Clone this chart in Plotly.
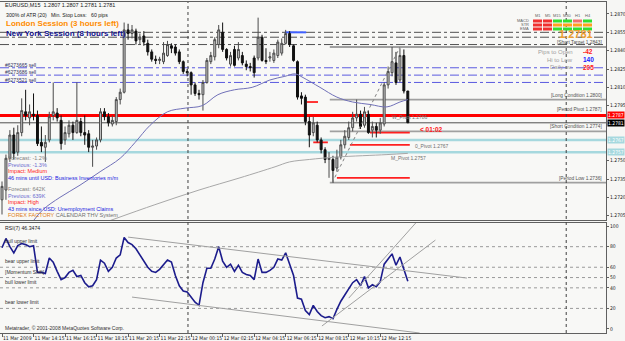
import plotly.graph_objects as go

# ---------------- DATA ----------------
bar_idx = list(range(104))
opens = [1.2718,1.2726,1.2752,1.2771,1.2757,1.2773,1.2790,1.2785,1.2788,1.2787,
         1.2765,1.2761,1.2767,1.2787,1.2789,1.2783,1.2767,1.2772,1.2779,1.2773,
         1.2782,1.2773,1.2772,1.2761,1.2762,1.2767,1.2790,1.2786,1.2780,1.2782,
         1.2800,1.2806,1.2857,1.2854,1.2856,1.2849,1.2852,1.2846,1.2839,1.2833,
         1.2832,1.2831,1.2836,1.2844,1.2843,1.2839,1.2831,1.2823,1.2822,1.2812,
         1.2805,1.2804,1.2814,1.2831,1.2835,1.2845,1.2855,1.2841,1.2829,1.2841,
         1.2834,1.2836,1.2829,1.2827,1.2834,1.2834,1.2851,1.2832,1.2834,1.2832,
         1.2836,1.2838,1.2846,1.2854,1.2844,1.2831,1.2803,1.2802,1.2782,1.2773,
         1.2779,1.2767,1.2759,1.2751,1.2751,1.2744,1.2753,1.2763,1.2769,1.2777,
         1.2785,1.2788,1.2779,1.2788,1.2775,1.2778,1.2775,1.2780,1.2812,1.2822,
         1.2830,1.2816,1.2836,1.2807]
highs = [1.2733,1.2755,1.2775,1.2777,1.2779,1.2801,1.2808,1.2796,1.2805,1.2791,
         1.2778,1.2771,1.2790,1.2814,1.2793,1.2787,1.2778,1.2783,1.2782,1.2814,
         1.2785,1.2787,1.2775,1.2767,1.2769,1.2793,1.2793,1.2789,1.2787,1.2802,
         1.2809,1.2863,1.2862,1.2861,1.2858,1.2854,1.2856,1.2849,1.2841,1.2836,
         1.2835,1.2847,1.2848,1.2846,1.2845,1.2841,1.2832,1.2825,1.2823,1.2814,
         1.2808,1.2816,1.2834,1.2839,1.2851,1.2861,1.2863,1.2842,1.2839,1.2844,
         1.2847,1.2839,1.2832,1.2830,1.2836,1.2867,1.2853,1.2842,1.2839,1.2841,
         1.2849,1.2850,1.2857,1.2856,1.2845,1.2832,1.2806,1.2804,1.2786,1.2786,
         1.2782,1.2769,1.2761,1.2757,1.2754,1.2759,1.2767,1.2775,1.2782,1.2790,
         1.2800,1.2791,1.2794,1.2791,1.2782,1.2781,1.2785,1.2814,1.2827,1.2843,
         1.2839,1.2842,1.2841,1.2807]
lows = [1.2706,1.2718,1.2749,1.2751,1.2754,1.2770,1.2783,1.2779,1.2783,1.2762,
        1.2757,1.2749,1.2765,1.2783,1.2782,1.2759,1.2763,1.2769,1.2767,1.2772,
        1.2770,1.2763,1.2757,1.2745,1.2759,1.2765,1.2783,1.2778,1.2778,1.2779,
        1.2796,1.2805,1.2849,1.2850,1.2845,1.2845,1.2844,1.2836,1.2831,1.2829,
        1.2829,1.2829,1.2835,1.2838,1.2836,1.2829,1.2821,1.2819,1.2804,1.2803,
        1.2800,1.2791,1.2813,1.2829,1.2832,1.2842,1.2839,1.2832,1.2827,1.2827,
        1.2832,1.2828,1.2824,1.2823,1.2818,1.2832,1.2831,1.2829,1.2831,1.2830,
        1.2834,1.2836,1.2845,1.2843,1.2831,1.2800,1.2796,1.2779,1.2761,1.2770,
        1.2765,1.2756,1.2748,1.2736,1.2732,1.2741,1.2751,1.2760,1.2767,1.2774,
        1.2782,1.2776,1.2777,1.2772,1.2769,1.2769,1.2772,1.2778,1.2809,1.2819,
        1.2812,1.2814,1.2805,1.2781]
closes = [1.2729,1.2752,1.2771,1.2756,1.2773,1.2791,1.2787,1.2790,1.2787,1.2764,
          1.2762,1.2765,1.2786,1.2790,1.2785,1.2764,1.2773,1.2779,1.2773,1.2783,
          1.2773,1.2771,1.2761,1.2762,1.2767,1.2790,1.2786,1.2781,1.2783,1.2800,
          1.2806,1.2857,1.2854,1.2857,1.2848,1.2851,1.2847,1.2839,1.2833,1.2832,
          1.2833,1.2838,1.2845,1.2842,1.2838,1.2831,1.2823,1.2822,1.2812,1.2805,
          1.2804,1.2814,1.2832,1.2836,1.2849,1.2857,1.2841,1.2834,1.2836,1.2828,
          1.2841,1.2830,1.2827,1.2826,1.2822,1.2851,1.2832,1.2831,1.2835,1.2838,
          1.2847,1.2846,1.2854,1.2845,1.2832,1.2802,1.2801,1.2782,1.2771,1.2781,
          1.2767,1.2759,1.2751,1.2752,1.2742,1.2753,1.2763,1.2770,1.2777,1.2785,
          1.2788,1.2778,1.2790,1.2773,1.2778,1.2775,1.2781,1.2812,1.2823,1.2831,
          1.2814,1.2836,1.2807,1.2781]

# slow-blue moving average (read points)
ma_blue_x = [8,10.4,14.7,19.8,24.9,30,33.8,37.6,42,46.5,50.8,54.8,59,63.5,68,71.8,74.4,76.4,80.7,85,89,93.4,97.7,101,103]
ma_blue_y = [1.2701,1.2710,1.2720,1.2730,1.2741,1.2752,1.2765,1.2779,1.2790,1.2793,1.2795,1.2804,1.2808,1.2810,
             1.2816,1.2819,1.2821,1.2818,1.2810,1.2802,1.2798,1.2796,1.2794,1.2798,1.2800]
# grey moving average (read points)
ma_grey_x = [27.4,38.8,50,60.4,69.3,73,78,85,97.7,103]
ma_grey_y = [1.2701,1.2714,1.2726,1.2736,1.2745,1.2749,1.2751,1.2753,1.2755,1.2756]

rsi = [79,88,80,74,81,83,82,80,81,55,55,54,69,65,56,48,50,55,57,51,52,45,41,42,48,67,64,56,60,69,
       72,89,84,82,78,72,66,60,56,55,58,62,67,65,52,42,37,36,31,26,23,45,59,
       59,68,80,66,60,63,56,62,55,53,52,48,68,55,55,57,60,68,67,74,64,52,30,29,18,14,23,17,13,11,
       12,10,19,27,33,39,45,48,42,51,40,43,41,46,63,68,73,62,70,58,46.35]

tick_pos = [0,8,16,24,32,40,48,56,64,72,80,88,96]
tick_text = ["11 Mar 2009","11 Mar 14:15","11 Mar 16:15","11 Mar 18:15","11 Mar 20:15","11 Mar 22:15",
             "12 Mar 00:15","12 Mar 02:15","12 Mar 04:15","12 Mar 06:15","12 Mar 08:15","12 Mar 10:15","12 Mar 12:15"]
price_ticks = [1.2705,1.2720,1.2735,1.2750,1.2795,1.2810,1.2825,1.2840,1.2855,1.2870]
rsi_ticks = [0,20,40,50,60,80,100]
rsi_levels = [80,60,50,40,20]
rsi_level_names = ["bull upper limit","bear upper limit","[Momentum Shift]","bull lower limit","bear lower limit"]

grey_dashdot_levels = [1.2855,1.2851,1.2845]
blue_dashdot_levels = [1.2826,1.2820,1.2814]
order_names = ["#6273665 sell","#6273686 sell","#6273521 sell"]
pivot_level = 1.2787
bid_level = 1.2781
cyan_levels = [1.2767,1.2757]
cond_levels = [1.2843,1.2800,1.2774,1.2732]
cond_names = ["[Short Target 1.2843]","[Long Condition 1.2800]","[Short Condition 1.2774]","[Period Low 1.2736]"]
red_seg = [(77.4,80.2,1.2798),(79.0,82.7,1.2765),(85.0,103.5,1.2736),(88.3,103.5,1.2763),(93.4,103.5,1.2773)]
day_seps = [47.2,143.2]

sig_cols = ["M1","M5","M15","M30","H1","H4"]
sig_rows = ["MACD","STR","EMA"]
RD, GN, OR, SL = "#f03030", "#30e030", "#ffa020", "#f07070"
sig_colors = [[RD,RD,GN,GN,SL,GN],[RD,RD,OR,OR,OR,OR],[RD,RD,GN,GN,GN,GN]]

# ---------------- LAYOUT HELPERS ----------------
W, H = 625, 341
ML, MR, MT, MB = 0, 19, 2, 8
PW, PH = W - ML - MR, H - MT - MB
def xp(px): return px / PW
def yp(py): return (H - MB - py) / PH

FONT = "Liberation Sans"
NARROW = "Liberation Sans Narrow, DejaVu Sans Condensed, Liberation Sans"
fig = go.Figure()

fig.add_trace(go.Candlestick(
    x=bar_idx, open=opens, high=highs, low=lows, close=closes,
    increasing=dict(line=dict(color="#4a4a4a", width=1), fillcolor="#c8c8c8"),
    decreasing=dict(line=dict(color="#111111", width=1), fillcolor="#111111"),
    whiskerwidth=0, showlegend=False, xaxis="x", yaxis="y"))
fig.add_trace(go.Scatter(x=ma_blue_x, y=ma_blue_y, mode="lines", line=dict(color="#7070b8", width=1, shape="spline"),
                         showlegend=False, xaxis="x", yaxis="y", hoverinfo="skip"))
fig.add_trace(go.Scatter(x=ma_grey_x, y=ma_grey_y, mode="lines", line=dict(color="#a8a8a8", width=1, shape="spline"),
                         showlegend=False, xaxis="x", yaxis="y", hoverinfo="skip"))
fig.add_trace(go.Scatter(x=bar_idx, y=rsi, mode="lines", line=dict(color="#1c1c8c", width=1.6),
                         showlegend=False, xaxis="x2", yaxis="y2"))

shapes = []
def hline(y, color, width, dash="solid", x0=None, x1=None, yref="y", xdom="x domain"):
    if x0 is None:
        shapes.append(dict(type="line", xref=xdom, yref=yref, x0=0, x1=1, y0=y, y1=y,
                           line=dict(color=color, width=width, dash=dash), layer="below"))
    else:
        shapes.append(dict(type="line", xref="x", yref=yref, x0=x0, x1=x1, y0=y, y1=y,
                           line=dict(color=color, width=width, dash=dash), layer="below"))

for lv in grey_dashdot_levels:
    hline(lv, "#505050", 1, "dashdot")
for lv in blue_dashdot_levels:
    hline(lv, "#5a5ae0", 1, "dashdot")
for lv in cyan_levels:
    hline(lv, "#a6d8de", 2.5)
hline(pivot_level, "#ff0000", 3)
hline(bid_level, "#505050", 1)
for lv in cond_levels:
    hline(lv, "#a0a0a0", 1.8, x0=83.2, x1=153.3)
for a, b, lv in red_seg:
    hline(lv, "#ff2020", 1.8, x0=a, x1=b)
hline(1.2855, "#4060ff", 2, x0=71.8, x1=77.2)
shapes.append(dict(type="line", xref="x", yref="y", x0=83.8, x1=101, y0=1.2732, y1=1.2843,
                   line=dict(color="#808080", width=1, dash="dot")))
for lv in rsi_levels:
    hline(lv, "#9a9a9a", 1, "dot", yref="y2", xdom="x2 domain")
# RSI trend lines
for (a, ya, b, yb) in [(32, 89.3, 118, 49.5), (33, 31, 106, -3.9), (81.2, 2.9, 110, 86.4), (88, 30, 105, 103)]:
    shapes.append(dict(type="line", xref="x2", yref="y2", x0=a, x1=b, y0=ya, y1=yb,
                       line=dict(color="#a0a0a0", width=1)))
for d in day_seps:
    shapes.append(dict(type="line", xref="x", yref="paper", x0=d, x1=d, y0=0, y1=1,
                       line=dict(color="#404040", width=1, dash="dot")))
# signal grid
for r, row in enumerate(sig_colors):
    for c, col in enumerate(row):
        x0 = 533 + c * 10
        y0 = 19.5 + r * 4
        shapes.append(dict(type="rect", xref="paper", yref="paper", x0=xp(x0), x1=xp(x0 + 9),
                           y0=yp(y0 + 3), y1=yp(y0), line=dict(width=0), fillcolor=col))

ann = []
def txt(x, y, s, size=5.5, color="#202020", anchor="left", bold=False, xref="paper", yref="paper",
        yanchor="middle", bg=None, family=FONT):
    if bold:
        s = "<b>" + s + "</b>"
    d = dict(x=x, y=y, xref=xref, yref=yref, text=s, showarrow=False, xanchor=anchor, yanchor=yanchor,
             font=dict(family=family, size=size, color=color))
    if bg:
        d["bgcolor"] = bg
        d["borderpad"] = 0
    ann.append(d)

txt(xp(3), yp(5), "EURUSD,M15  1.2807 1.2807 1.2781 1.2781", 5.5, "#202020")
txt(xp(4), yp(15), "300% of ATR (20)", 5.2, "#202020")
txt(xp(49), yp(15), "Min. Stop Loss:   60 pips", 5.2, "#202020")
txt(xp(4), yp(23.5), "London Session (3 hours left)", 8, "#ff8c00", bold=True)
txt(xp(4), yp(33.5), "New York Session (8 hours left)", 8, "#10108a", bold=True)
for k, nm in enumerate(order_names):
    txt(xp(3), yp(65 + k * 7.5), nm, 5, "#303060")

news = [("Forecast: -1.2%", "#808080", 158), ("Previous: -1.3%", "#6a6ad0", 164.5), ("Impact: Medium", "#ff2020", 171),
        ("46 mins until USD: Business Inventories m/m", "#2020e0", 177.5), ("Forecast: 642K", "#808080", 189),
        ("Previous: 639K", "#6a6ad0", 195.5), ("Impact: High", "#ff2020", 202),
        ("43 mins since USD: Unemployment Claims", "#2020e0", 208.5)]
for s, c, y in news:
    txt(xp(6), yp(y), s, 5.5, c)
txt(xp(6), yp(215), "<span style='color:#e08020'>FOREX FACTORY</span> CALENDAR THV System", 5.5, "#707070")

# right info block
txt(xp(576), yp(34), "1.2781", 11, "#f0a030", anchor="center", bold=True)
for s, v, c, y in [("Pips to Open", "-42", "#ff2020", 52), ("Hi to Low", "140", "#2020ff", 60), ("Daily av.", "205", "#ff2020", 67.5)]:
    txt(xp(575), yp(y), s, 6, "#a0a0a0", anchor="right")
    txt(xp(581), yp(y), v, 6.5, c, bold=True)
for c, nm in enumerate(sig_cols):
    txt(xp(537.5 + c * 10), yp(16), nm, 4, "#606060", anchor="center")
for r, nm in enumerate(sig_rows):
    txt(xp(531), yp(21 + r * 4), nm, 4, "#606060", anchor="right")

# level labels
for lv, nm in zip(cond_levels, cond_names):
    txt(xp(604), lv, nm, 4.8, "#505050", anchor="right", yref="y", yanchor="bottom")
txt(xp(604), pivot_level + 0.00008, "[Period Pivot 1.2787]", 4.8, "#505050", anchor="right", yref="y", yanchor="bottom")
txt(xp(413), cyan_levels[0] - 0.0001, "0_Pivot 1.2767", 5, "#707070", yref="y", yanchor="top")
txt(xp(389), cyan_levels[1] - 0.0001, "M_Pivot 1.2757", 5, "#707070", yref="y", yanchor="top")
txt(xp(390), bid_level + 0.00005, "W_Pivot 1.2786", 5, "#707070", yref="y", yanchor="bottom")
txt(xp(418), bid_level - 0.0001, "&lt; 01:02", 6.5, "#ff2020", yref="y", yanchor="top", bold=True)

# axis value boxes
for lv, bg, fg in [(pivot_level, "#ff0000", "#ffffff"), (bid_level, "#000000", "#ffffff"),
                   (cyan_levels[0], "#a6d8de", "#ffffff"), (cyan_levels[1], "#a6d8de", "#ffffff")]:
    txt(1.002, lv, f"{lv:.4f}", 5, fg, anchor="left", yref="y", bg=bg, family=NARROW)

# RSI panel texts
txt(xp(3), yp(228), "RSI(7) 46.3474", 5.2, "#202020")
for lv, nm in zip(rsi_levels, rsi_level_names):
    txt(xp(3), lv + 1, nm, 5, "#303030", yref="y2", yanchor="bottom")
txt(xp(3), yp(328), "Metatrader, © 2001-2008 MetaQuotes Software Corp.", 5, "#303030")

axis_common = dict(showgrid=False, zeroline=False, showline=True, mirror=True, linecolor="#606060",
                   linewidth=1, automargin=False)
tfont = dict(family=NARROW, size=5, color="#202020")
fig.update_layout(
    width=W, height=H, margin=dict(l=ML, r=MR, t=MT, b=MB, autoexpand=False),
    paper_bgcolor="#f6f6f4", plot_bgcolor="#f8f8f6",
    shapes=shapes, annotations=ann, showlegend=False,
    xaxis=dict(domain=[0, 1], range=[-0.508, 153.3], anchor="y", showticklabels=False,
               rangeslider=dict(visible=False), **axis_common),
    xaxis2=dict(domain=[0, 1], range=[-0.508, 153.3], anchor="y2", matches="x",
                tickvals=tick_pos, ticktext=tick_text, ticks="outside", ticklen=3, tickcolor="#606060",
                ticklabelposition="outside right", tickangle=0, tickfont=tfont, **axis_common),
    yaxis=dict(domain=[0.3414, 1], range=[1.27015, 1.28798], anchor="x", side="right",
               tickvals=price_ticks, tickformat=".4f", ticks="outside", ticklen=2, tickcolor="#606060",
               tickfont=tfont, **axis_common),
    yaxis2=dict(domain=[0, 0.3332], range=[-3.9, 103.3], anchor="x2", side="right",
                tickvals=rsi_ticks, ticks="outside", ticklen=2, tickcolor="#606060",
                tickfont=tfont, **axis_common),
)
fig.write_html("out.html")
